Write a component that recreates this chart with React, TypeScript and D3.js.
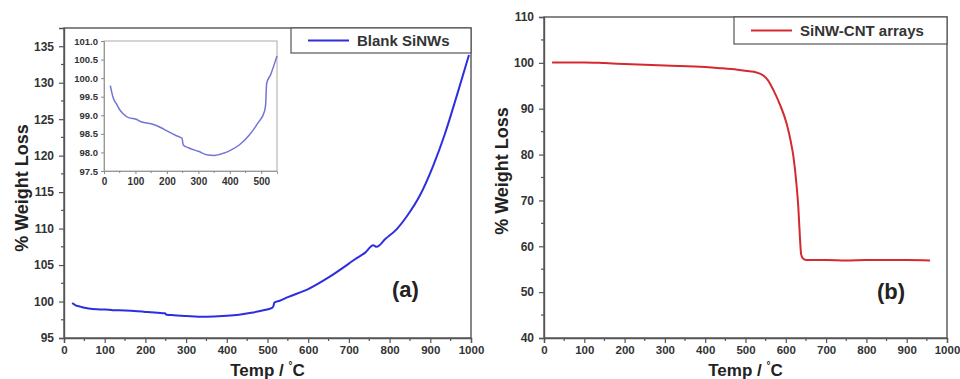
import * as d3 from 'd3'
import { useEffect, useRef } from 'react'

// [temperature °C, % weight]
const blankSiNWs: [number, number][] = [
  [20, 99.8], [30, 99.45], [40, 99.3], [50, 99.15], [60, 99.05], [80, 98.93],
  [100, 98.9], [120, 98.82], [150, 98.77], [180, 98.67], [200, 98.58],
  [230, 98.45], [248, 98.38], [252, 98.2], [270, 98.12], [300, 98.03],
  [330, 97.93], [350, 97.92], [380, 97.98], [400, 98.05], [430, 98.2],
  [460, 98.45], [490, 98.8], [510, 99.1], [514, 99.3], [517, 99.85],
  [530, 100.1], [550, 100.6], [600, 101.7], [650, 103.3], [700, 105.2],
  [715, 105.8], [740, 106.7], [760, 107.7], [768, 107.5], [790, 108.6],
  [817, 109.9], [845, 111.9], [875, 114.6], [907, 118.6], [936, 123.0],
  [965, 128.2], [995, 133.8],
]

const cntArrays: [number, number][] = [
  [20, 100.1], [100, 100.1], [150, 99.95], [200, 99.75], [300, 99.4],
  [400, 99.1], [437, 98.85], [480, 98.5], [510, 98.15], [525, 97.95],
  [545, 97.2], [555, 96.3], [562, 95.3], [569, 94.1], [585, 91],
  [602, 86.8], [612, 83], [619, 79.5], [626, 74], [631, 68.6], [635, 62],
  [638, 58.3], [642, 57.4], [651, 57.0], [700, 57.0], [750, 56.9],
  [800, 57.0], [900, 57.0], [958, 56.9],
]

const xTicks = [0, 100, 200, 300, 400, 500, 600, 700, 800, 900, 1000]
const yTicksA = [95, 100, 105, 110, 115, 120, 125, 130, 135]
const yTicksB = [40, 50, 60, 70, 80, 90, 100, 110]
const insetXTicks = [0, 100, 200, 300, 400, 500]
const insetYTicks = [97.5, 98.0, 98.5, 99.0, 99.5, 100.0, 100.5, 101.0]

const FONT = 'Liberation Sans, Arial, sans-serif'
const AXIS = '#555'
const TEXT = '#333'

type Panel = {
  left: number; right: number; top: number; bottom: number
  yDomain: [number, number]; yTicks: number[]; yMinor: number
  data: [number, number][]; color: string
  legend: string; legendBox: [number, number, number, number]
  tag: string; tagX: number; tagY: number
  yLabelX: number; yLabelY: number
}

function drawPanel(svg: d3.Selection<SVGSVGElement, unknown, null, undefined>, p: Panel) {
  const x = d3.scaleLinear().domain([0, 1000]).range([p.left, p.right])
  const y = d3.scaleLinear().domain(p.yDomain).range([p.bottom, p.top])
  const g = svg.append('g')

  g.append('rect')
    .attr('x', p.left).attr('y', p.top)
    .attr('width', p.right - p.left).attr('height', p.bottom - p.top)
    .attr('fill', 'none').attr('stroke', AXIS).attr('stroke-width', 1.4)

  const xAxis = d3.axisBottom(x).tickValues(xTicks).tickSize(5).tickPadding(3).tickFormat(d3.format('d'))
  const xa = g.append('g').attr('transform', `translate(0,${p.bottom})`).call(xAxis)
  const xMinor = d3.range(50, 1000, 100)
  xa.selectAll('.minor').data(xMinor).enter().append('line')
    .attr('x1', (d) => x(d)).attr('x2', (d) => x(d)).attr('y1', 0).attr('y2', 3)
    .attr('stroke', AXIS).attr('stroke-width', 1.2)

  const yAxis = d3.axisLeft(y).tickValues(p.yTicks).tickSize(5).tickPadding(5).tickFormat(d3.format('d'))
  const ya = g.append('g').attr('transform', `translate(${p.left},0)`).call(yAxis)
  const yMinor = d3.range(p.yDomain[0] + p.yMinor, p.yDomain[1], p.yMinor * 2)
  ya.selectAll('.minor').data(yMinor).enter().append('line')
    .attr('x1', 0).attr('x2', -3).attr('y1', (d) => y(d)).attr('y2', (d) => y(d))
    .attr('stroke', AXIS).attr('stroke-width', 1.2)

  for (const a of [xa, ya]) {
    a.select('.domain').attr('stroke', AXIS).attr('stroke-width', 1.4)
    a.selectAll('.tick line').attr('stroke', AXIS).attr('stroke-width', 1.2)
    a.selectAll('.tick text').attr('fill', TEXT).attr('font-size', 12)
      .attr('font-weight', 'bold').attr('font-family', FONT)
  }
  xa.selectAll('.tick text').attr('font-size', 11.5)

  const line = d3.line<[number, number]>().x((d) => x(d[0])).y((d) => y(d[1])).curve(d3.curveMonotoneX)
  g.append('path').datum(p.data).attr('d', line)
    .attr('fill', 'none').attr('stroke', p.color).attr('stroke-width', 2)

  const [bx, by, bw, bh] = p.legendBox
  g.append('rect').attr('x', bx).attr('y', by).attr('width', bw).attr('height', bh)
    .attr('fill', 'white').attr('stroke', AXIS).attr('stroke-width', 1.2)
  g.append('line').attr('x1', bx + 17).attr('x2', bx + 58)
    .attr('y1', by + bh / 2).attr('y2', by + bh / 2)
    .attr('stroke', p.color).attr('stroke-width', 2)
  g.append('text').attr('x', bx + 66).attr('y', by + bh / 2 + 5)
    .attr('font-size', 15).attr('font-weight', 'bold').attr('font-family', FONT)
    .attr('fill', TEXT).text(p.legend)

  g.append('text').attr('x', p.tagX).attr('y', p.tagY)
    .attr('font-size', 22).attr('font-weight', 'bold').attr('font-family', FONT)
    .attr('fill', '#222').text(p.tag)

  g.append('text')
    .attr('transform', `translate(${p.yLabelX},${p.yLabelY}) rotate(-90)`)
    .attr('text-anchor', 'middle')
    .attr('font-size', 18).attr('font-weight', 'bold').attr('font-family', FONT)
    .attr('fill', '#222').text('% Weight Loss')

  const xl = g.append('text')
    .attr('x', (p.left + p.right) / 2).attr('y', 376)
    .attr('text-anchor', 'middle')
    .attr('font-size', 17).attr('font-weight', 'bold').attr('font-family', FONT)
    .attr('fill', '#222')
  xl.append('tspan').text('Temp / ')
  xl.append('tspan').attr('font-size', 10).attr('dy', -7).text('°')
  xl.append('tspan').attr('dy', 7).text('C')
}

function drawInset(svg: d3.Selection<SVGSVGElement, unknown, null, undefined>) {
  const left = 104, right = 277, top = 41, bottom = 171
  const x = d3.scaleLinear().domain([0, 550]).range([left, right])
  const y = d3.scaleLinear().domain([97.5, 101]).range([bottom, top])
  const g = svg.append('g')
  g.append('rect').attr('x', left).attr('y', top).attr('width', right - left).attr('height', bottom - top)
    .attr('fill', 'white').attr('stroke', '#aaa').attr('stroke-width', 1)

  const xa = g.append('g').attr('transform', `translate(0,${bottom})`)
    .call(d3.axisBottom(x).tickValues(insetXTicks).tickSize(3).tickPadding(4).tickFormat(d3.format('d')))
  const ya = g.append('g').attr('transform', `translate(${left},0)`)
    .call(d3.axisLeft(y).tickValues(insetYTicks).tickSize(3).tickPadding(3).tickFormat(d3.format('.1f')))
  xa.selectAll('.minor').data(d3.range(50, 550, 100)).enter().append('line')
    .attr('x1', (d) => x(d)).attr('x2', (d) => x(d)).attr('y1', 0).attr('y2', 2).attr('stroke', '#888')
  for (const a of [xa, ya]) {
    a.select('.domain').attr('stroke', '#999')
    a.selectAll('.tick line').attr('stroke', '#888')
    a.selectAll('.tick text').attr('fill', TEXT).attr('font-size', 10)
      .attr('font-weight', 'bold').attr('font-family', FONT)
  }
  ya.selectAll('.tick text').attr('font-size', 9.5)

  const line = d3.line<[number, number]>().x((d) => x(d[0])).y((d) => y(d[1])).curve(d3.curveMonotoneX)
  g.append('path').datum(blankSiNWs.filter((d) => d[0] <= 550)).attr('d', line)
    .attr('fill', 'none').attr('stroke', '#7474d4').attr('stroke-width', 1.5)
}

export default function App() {
  const ref = useRef<SVGSVGElement>(null)
  useEffect(() => {
    const svg = d3.select(ref.current!)
    svg.selectAll('*').remove()
    drawPanel(svg, {
      left: 64, right: 471, top: 28, bottom: 338,
      yDomain: [95, 137.5], yTicks: yTicksA, yMinor: 2.5,
      data: blankSiNWs, color: '#2e2ee0',
      legend: 'Blank SiNWs', legendBox: [291, 28, 180, 25],
      tag: '(a)', tagX: 392, tagY: 297,
      yLabelX: 28, yLabelY: 188,
    })
    drawInset(svg)
    drawPanel(svg, {
      left: 544, right: 947, top: 17, bottom: 338,
      yDomain: [40, 110], yTicks: yTicksB, yMinor: 5,
      data: cntArrays, color: '#d42a2f',
      legend: 'SiNW-CNT arrays', legendBox: [734, 17, 213, 27],
      tag: '(b)', tagX: 877, tagY: 299,
      yLabelX: 508, yLabelY: 171,
    })
  }, [])
  return (
    <svg ref={ref} width={960} height={379}
      style={{ position: 'absolute', left: 0, top: 0, background: 'white' }} />
  )
}
